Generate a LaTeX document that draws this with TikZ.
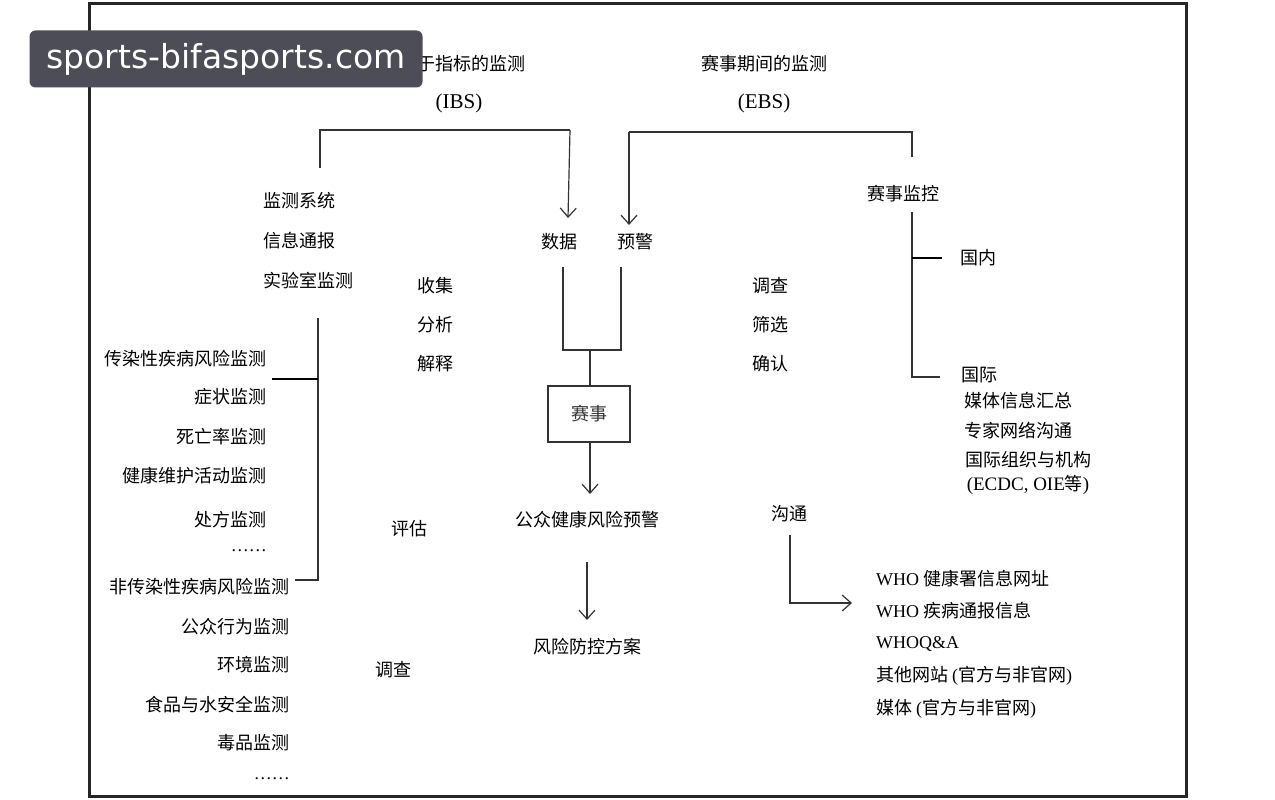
\documentclass[tikz,border=0pt]{standalone}
\usepackage{fontspec}
\setmainfont{Noto Sans CJK SC}
\newfontfamily\lat{Liberation Serif}
\newfontfamily\wm{DejaVu Sans}
\usetikzlibrary{arrows.meta}
\definecolor{markgray}{HTML}{4D4D58}
\begin{document}
\begin{tikzpicture}[x=1pt,y=-1pt,
    txt/.style={inner sep=0pt,font=\fontsize{18}{20}\selectfont},
    ln/.style={line width=1.2pt,black!80},
    arr/.style={ln,-{Straight Barb[length=9pt,width=16pt]}}]
    \useasboundingbox (0,0) rectangle (1275,800);
    \fill[white] (0,0) rectangle (1275,800);
    \draw[line width=3pt,black!85] (89,4) rectangle (1186,796);

    % headings
    \node[txt] (ibs) at (462,64) {基于指标的监测};
    \node[txt] (ibsa) at (459,103) {\lat\fontsize{21}{23}\selectfont(IBS)};
    \node[txt] (ebs) at (764,64) {赛事期间的监测};
    \node[txt] (ebsa) at (764,103) {\lat\fontsize{21}{23}\selectfont(EBS)};

    % left sources
    \node[txt] (src1) at (299,201) {监测系统};
    \node[txt] (src2) at (299,241) {信息通报};
    \node[txt] (src3) at (308,281) {实验室监测};
    \node[txt] (data) at (559,242) {数据};
    \node[txt] (warn) at (635,242) {预警};
    \coordinate (ibsl) at (320,168);
    \coordinate (ibsc) at (570,130);
    \coordinate (ibsd) at (568,218);
    \draw[ln] (ibsl) |- (ibsc);
    \draw[arr] (ibsc) -- (ibsd);
    \coordinate (ebsr) at (912,157);
    \coordinate (ebsc) at (629,132);
    \coordinate (ebsd) at (629,225);
    \draw[ln] (ebsr) |- (ebsc);
    \draw[arr] (ebsc) -- (ebsd);

    % middle labels
    \node[txt] (col) at (435,286) {收集};
    \node[txt] (ana) at (435,325) {分析};
    \node[txt] (exp) at (435,364) {解释};
    \node[txt] (inv) at (770,286) {调查};
    \node[txt] (scr) at (770,325) {筛选};
    \node[txt] (con) at (770,364) {确认};

    % event monitoring
    \node[txt] (mon) at (903,194) {赛事监控};
    \node[txt] (dom) at (978,258) {国内};
    \node[txt] (intl) at (979,375) {国际};
    \node[txt] (i1) at (1018,401) {媒体信息汇总};
    \node[txt] (i2) at (1018,431) {专家网络沟通};
    \node[txt] (i3) at (1028,460) {国际组织与机构};
    \node[txt] (i4) at (1028,485) {\lat\fontsize{19}{21}\selectfont(ECDC, OIE{\fontspec{Noto Sans CJK SC}\fontsize{18}{20}\selectfont 等})};
    \coordinate (montop) at (912,212);
    \coordinate (monend) at (940,377);
    \draw[ln] (montop) |- (monend);
    \draw[line width=2.5pt] (912,258) -- (942,258);

    % funnel and event
    \coordinate (fl) at (563,267);
    \coordinate (fr) at (621,267);
    \draw[ln] (fl) -- (563,350) -- (621,350) -- (fr);
    \node[draw,ln,minimum width=82pt,minimum height=56pt,font=\fontsize{18}{20}\selectfont] (event) at (589,414) {赛事};
    \draw[ln] (590,350) -- (event.north -| 590,0);
    \node[txt] (pub) at (587,520) {公众健康风险预警};
    \draw[arr] (event.south -| 590,0) -- (590,494);
    \node[txt] (plan) at (587,647) {风险防控方案};
    \draw[arr] (587,562) -- (587,620);

    % left list
    \foreach \t/\y/\x in {传染性疾病风险监测/359/267, 症状监测/397/267, 死亡率监测/437/267,
        健康维护活动监测/476/267, 处方监测/520/267, 非传染性疾病风险监测/587/290,
        公众行为监测/627/290, 环境监测/665/290, 食品与水安全监测/705/290, 毒品监测/743/290}
        \node[txt,anchor=east] at (\x,\y) {\t};
    \node[txt,anchor=east] (dots1) at (267,551) {\lat ……};
    \node[txt,anchor=east] (dots2) at (290,779) {\lat ……};
    \coordinate (lt) at (318,318);
    \coordinate (lb) at (295,580);
    \draw[ln] (lt) |- (lb);
    \draw[line width=2.5pt] (272,379) -- (318,379);

    \node[txt] (eva) at (409,529) {评估};
    \node[txt] (inv2) at (393,670) {调查};

    % communication
    \node[txt] (comm) at (789,514) {沟通};
    \coordinate (ct) at (790,535);
    \coordinate (ce) at (852,603);
    \draw[arr] (ct) |- (ce);
    \foreach \t/\y in {{\lat WHO} 健康署信息网址/579, {\lat WHO} 疾病通报信息/611, {\lat WHOQ\&A}/644,
        其他网站 {\lat(}官方与非官网{\lat)}/676, 媒体 {\lat(}官方与非官网{\lat)}/709}
        \node[txt,anchor=west] at (876,\y) {\t};

    % watermark
    \node[fill=markgray,rounded corners=6pt,minimum width=393pt,minimum height=57pt,
        text=white,font=\wm\fontsize{33}{35}\selectfont] (mark) at (226,59) {sports-bifasports.com};
\end{tikzpicture}
\end{document}
